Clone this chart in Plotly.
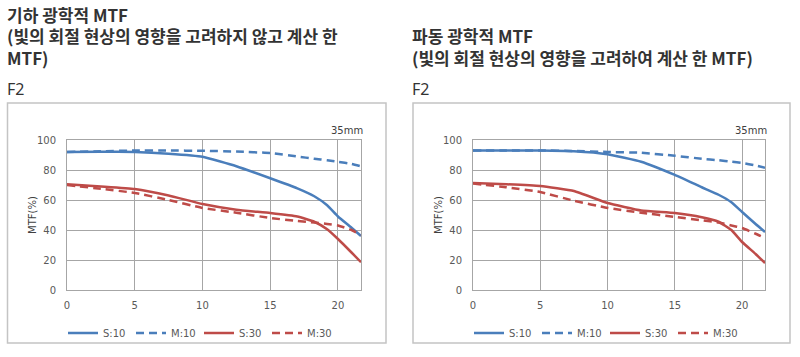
import plotly.graph_objects as go

W, H = 800, 357

# ---- data ----
x_pos = [0, 2.5, 5, 7.5, 10, 12.5, 15, 17, 18.25, 19.2, 20, 21, 21.7]

# Left panel: geometric optical MTF
geo_S10 = [92, 92.2, 92, 90.8, 88.8, 82.5, 74.5, 67.8, 62.5, 56.5, 49, 41.5, 36]
geo_M10 = [92, 92.5, 93, 93, 92.8, 92.3, 91.3, 89, 87.5, 86.5, 85.5, 84, 82.5]
geo_S30 = [70.5, 69, 67.3, 63, 57.3, 53.5, 51.3, 49, 45.5, 40.5, 34, 25, 18.5]
geo_M30 = [70, 67.5, 64.7, 60, 54.7, 51.5, 48, 46, 45, 44, 43, 40, 36.7]

# Right panel: wave optical MTF
wav_S10 = [93, 93, 93, 92.5, 90.5, 85.5, 76.7, 68.5, 63.5, 58.5, 52, 44, 38.7]
wav_M10 = [93, 93, 93, 92.7, 92, 91.5, 89.5, 87.5, 86.5, 85.5, 84.7, 83, 81.5]
wav_S30 = [71.3, 70.5, 69.3, 66, 58, 53, 51.3, 48.5, 45.5, 40, 32, 24, 18]
wav_M30 = [71, 68.5, 65.3, 59.5, 54.7, 51.5, 48.7, 46.5, 45, 43, 41.3, 37.5, 34.5]

series_names = ["S:10", "M:10", "S:30", "M:30"]
x_ticks = [0, 5, 10, 15, 20]
y_ticks = [0, 20, 40, 60, 80, 100]

left_title = ["기하 광학적 MTF", "(빛의 회절 현상의 영향을 고려하지 않고 계산 한", "MTF)"]
right_title = ["파동 광학적 MTF", "(빛의 회절 현상의 영향을 고려하여 계산 한 MTF)"]
aperture = "F2"
focal = "35mm"
y_title = "MTF(%)"

BLUE = "#4a7ebb"
RED = "#be4b48"
GRID = "#a6a6a6"
TXT = "#595959"
DARK = "#333333"

def px(x):
    return x / W

def py(y):
    return 1 - y / H

fig = go.Figure()

styles = [(BLUE, "solid"), (BLUE, "8px,5px"), (RED, "solid"), (RED, "8px,5px")]

for panel, data, xa, ya, lg in [
    (0, [geo_S10, geo_M10, geo_S30, geo_M30], "x", "y", "legend"),
    (1, [wav_S10, wav_M10, wav_S30, wav_M30], "x2", "y2", "legend2"),
]:
    for name, vals, (col, dash) in zip(series_names, data, styles):
        fig.add_trace(go.Scatter(
            x=x_pos, y=vals, name=name, mode="lines",
            line=dict(color=col, width=2.5, dash=dash, shape="spline", smoothing=0.4),
            xaxis=xa, yaxis=ya, legend=lg, hoverinfo="skip",
        ))

axis_common = dict(
    showgrid=True, gridcolor=GRID, gridwidth=1,
    showline=True, linecolor=GRID, linewidth=1, mirror=True,
    zeroline=False, ticks="", automargin=False,
    tickfont=dict(family="DejaVu Sans", size=10, color=TXT),
)

legend_common = dict(orientation="h", y=py(333), xanchor="left", yanchor="middle",
                     font=dict(family="DejaVu Sans", size=10, color=TXT),
                     entrywidth=23, entrywidthmode="pixels", bgcolor="rgba(0,0,0,0)",
                     tracegroupgap=0, itemwidth=30)

fig.update_layout(
    width=W, height=H,
    margin=dict(l=0, r=0, t=0, b=0, autoexpand=False),
    paper_bgcolor="white", plot_bgcolor="white",
    xaxis=dict(domain=[px(67), px(361)], range=[0, 21.7], tickvals=x_ticks,
               anchor="y", ticklabelstandoff=6, **axis_common),
    yaxis=dict(domain=[py(290), py(140)], range=[0, 100], tickvals=y_ticks,
               anchor="x", ticklabelstandoff=8, **axis_common),
    xaxis2=dict(domain=[px(473), px(765)], range=[0, 21.7], tickvals=x_ticks,
                anchor="y2", ticklabelstandoff=6, **axis_common),
    yaxis2=dict(domain=[py(290), py(140)], range=[0, 100], tickvals=y_ticks,
                anchor="x2", ticklabelstandoff=8, **axis_common),
    legend=dict(x=px(63), **legend_common),
    legend2=dict(x=px(469), **legend_common),
    showlegend=True,
)

# chart boxes
for x0, x1 in [(7.5, 386), (413, 790)]:
    fig.add_shape(type="rect", xref="paper", yref="paper",
                  x0=px(x0), x1=px(x1), y0=py(343), y1=py(103),
                  line=dict(color="#c4c4c4", width=1.5), fillcolor="rgba(0,0,0,0)",
                  layer="below")

ann = []
TF = "Noto Sans CJK KR"
for i, line in enumerate(left_title):
    ann.append(dict(x=px(7), y=py(14.5 + i * 21.5), text=f"<b>{line}</b>", xanchor="left",
                    yanchor="middle", font=dict(family=TF, size=17, color=DARK)))
for i, line in enumerate(right_title):
    ann.append(dict(x=px(412), y=py(36 + i * 21.5), text=f"<b>{line}</b>", xanchor="left",
                    yanchor="middle", font=dict(family=TF, size=17, color=DARK)))
for xx in (7, 412):
    ann.append(dict(x=px(xx), y=py(89), text=aperture, xanchor="left", yanchor="middle",
                    font=dict(family="Noto Sans", size=16, color=DARK)))
for xx in (363, 767):
    ann.append(dict(x=px(xx), y=py(130), text=focal, xanchor="right", yanchor="middle",
                    font=dict(family="DejaVu Sans", size=10, color="#404040")))
for xx in (32, 438):
    ann.append(dict(x=px(xx), y=py(215), text=y_title, textangle=-90, xanchor="center",
                    yanchor="middle", font=dict(family="DejaVu Sans", size=10, color="#404040")))
for a in ann:
    a.update(xref="paper", yref="paper", showarrow=False, borderpad=0, borderwidth=0)
fig.update_layout(annotations=ann)

fig.write_html("out.html",
               config={"displayModeBar": False},
               post_script="document.body.style.margin='0px';document.body.style.overflow='hidden';")
